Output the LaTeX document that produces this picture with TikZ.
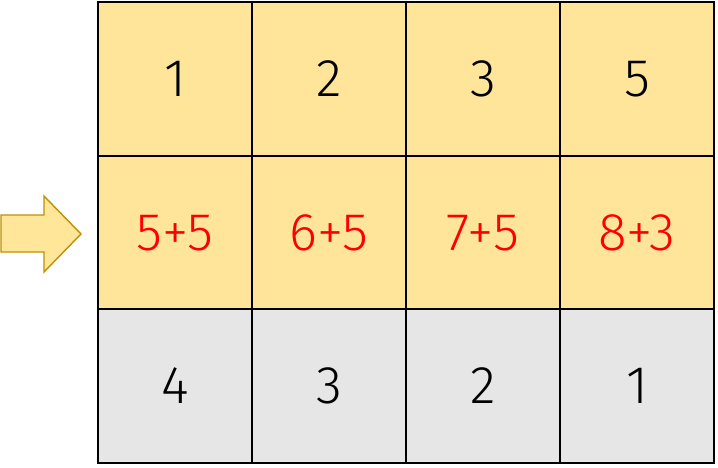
\documentclass[tikz,border=0pt]{standalone}
\usepackage{fontspec}
\setmainfont{Fira Sans}[UprightFont=* Light]
\usepackage{xcolor}
\definecolor{butter}{HTML}{FFE599}
\definecolor{ash}{HTML}{E6E6E6}
\definecolor{ochre}{HTML}{BF9000}
\definecolor{arrowfill}{HTML}{FFE699}
\usetikzlibrary{calc,positioning}
\tikzset{
    x=1pt,y=-1pt,
    cell/.style ={rectangle, draw, line width=1.4pt, minimum width=154pt, minimum height=154pt, inner sep=0pt, font=\fontsize{53}{53}\selectfont},
    top/.style = {cell, fill=butter},
    sum/.style = {cell, fill=butter, text=red},
    low/.style = {cell, fill=ash},
    pointer/.style={draw=ochre, fill=arrowfill, line width=1.4pt, line join=miter}
}
\begin{document}
\begin{tikzpicture}
      \useasboundingbox (0,0) rectangle (718,467);
      % first row
      \foreach \v [count=\i] in {1,2,3,5}
        \node[top] (a\i) at ({21+154*\i},79) {\v};
      % second row
      \foreach \v [count=\i] in {5+5,6+5,7+5,8+3}
        \node[sum] (b\i) at ({21+154*\i},233) {\v};
      % third row
      \foreach \v [count=\i] in {4,3,2,1}
        \node[low] (c\i) at ({21+154*\i},386) {\v};

      \path[pointer] (1,215) -- (44,215) -- (44,196) -- (81,234) -- (44,272) -- (44,252) -- (1,252) -- cycle;
    \end{tikzpicture}
\end{document}
